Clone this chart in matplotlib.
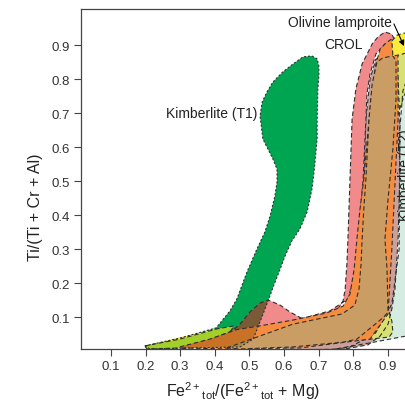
import numpy as np
import matplotlib
matplotlib.use('Agg')
import matplotlib.pyplot as plt
from matplotlib.patches import Polygon

plt.rcParams['font.family'] = 'Liberation Sans'
plt.rcParams['mathtext.fontset'] = 'custom'
plt.rcParams['mathtext.rm'] = 'Liberation Sans'
plt.rcParams['mathtext.it'] = 'Liberation Sans:italic'

# field outlines, Fe2+/(Fe2+ + Mg) vs Ti/(Ti + Cr + Al)
kimb_t1_x = [0.198, 0.299, 0.404, 0.444, 0.464, 0.493, 0.522, 0.545, 0.560, 0.574, 0.580,
             0.580, 0.568, 0.539, 0.531, 0.537, 0.551, 0.568, 0.597, 0.626, 0.655, 0.681,
             0.696, 0.701, 0.701, 0.698, 0.696, 0.696, 0.687, 0.681, 0.667, 0.646, 0.623,
             0.603, 0.589, 0.571, 0.554, 0.534, 0.511, 0.473, 0.213]
kimb_t1_y = [0.015, 0.038, 0.068, 0.118, 0.153, 0.232, 0.300, 0.350, 0.397, 0.456, 0.497,
             0.535, 0.565, 0.624, 0.691, 0.732, 0.762, 0.791, 0.821, 0.844, 0.865, 0.868,
             0.859, 0.838, 0.809, 0.771, 0.674, 0.624, 0.526, 0.476, 0.409, 0.359, 0.324,
             0.279, 0.241, 0.194, 0.147, 0.094, 0.035, 0.012, 0.006]

lime_x = [0.198, 0.299, 0.406, 0.456, 0.438, 0.421, 0.299, 0.204]
lime_y = [0.015, 0.035, 0.065, 0.074, 0.047, 0.018, 0.009, 0.006]

ystrip_x = [0.198, 0.285, 0.357, 0.398, 0.398, 0.198]
ystrip_y = [0.015, 0.037, 0.054, 0.065, 0.021, 0.009]

crol_x = [0.299, 0.386, 0.450, 0.473, 0.502, 0.531, 0.554, 0.589, 0.617, 0.655, 0.704, 0.753,
          0.771, 0.777, 0.782, 0.785, 0.791, 0.797, 0.808, 0.826, 0.855, 0.872, 0.892, 0.912,
          0.921, 0.892, 0.866, 0.849, 0.840, 0.837, 0.829, 0.814, 0.805, 0.785, 0.733, 0.626,
          0.531, 0.473, 0.386, 0.305]
crol_y = [0.010, 0.034, 0.059, 0.079, 0.115, 0.141, 0.150, 0.135, 0.115, 0.094, 0.097, 0.118,
          0.147, 0.182, 0.256, 0.329, 0.506, 0.682, 0.771, 0.844, 0.903, 0.924, 0.938, 0.932,
          0.912, 0.903, 0.874, 0.815, 0.756, 0.682, 0.506, 0.329, 0.226, 0.153, 0.118, 0.088,
          0.068, 0.056, 0.023, 0.006]

orange_x = [0.299, 0.386, 0.464, 0.531, 0.626, 0.724, 0.771, 0.791, 0.803, 0.811, 0.820, 0.831,
            0.846, 0.855, 0.866, 0.878, 0.895, 0.912, 0.927, 0.930, 0.930, 0.912, 0.901, 0.849,
            0.646, 0.444, 0.299]
orange_y = [0.012, 0.035, 0.063, 0.074, 0.091, 0.112, 0.132, 0.168, 0.241, 0.329, 0.418, 0.506,
            0.682, 0.771, 0.844, 0.888, 0.906, 0.918, 0.906, 0.859, 0.682, 0.300, 0.109, 0.035,
            0.009, 0.006, 0.009]

tan_x = [0.435, 0.522, 0.626, 0.768, 0.805, 0.817, 0.823, 0.826, 0.831, 0.837, 0.846, 0.855,
         0.869, 0.886, 0.915, 0.924, 0.924, 0.915, 0.901, 0.892, 0.898, 0.901, 0.889, 0.811,
         0.771, 0.626, 0.473]
tan_y = [0.009, 0.041, 0.079, 0.109, 0.135, 0.182, 0.256, 0.329, 0.418, 0.506, 0.682, 0.785,
         0.850, 0.862, 0.868, 0.853, 0.741, 0.594, 0.447, 0.329, 0.241, 0.115, 0.100, 0.035,
         0.026, 0.012, 0.006]

dusty_x = [0.866, 0.907, 0.930, 0.935, 0.935, 0.930, 0.921, 0.912, 0.901, 0.878, 0.843, 0.777,
           0.646, 0.603, 0.646, 0.762, 0.805, 0.820, 0.831, 0.837, 0.849]
dusty_y = [0.859, 0.868, 0.800, 0.682, 0.506, 0.329, 0.182, 0.124, 0.079, 0.044, 0.018, 0.006,
           0.003, 0.003, 0.018, 0.065, 0.153, 0.329, 0.506, 0.682, 0.800]

ygreen_x = [0.901, 0.924, 0.947, 0.970, 0.970, 0.947, 0.930, 0.915, 0.901, 0.883, 0.886, 0.901,
            0.912, 0.915, 0.904, 0.849, 0.811, 0.791, 0.805, 0.826, 0.855, 0.878]
ygreen_y = [0.888, 0.891, 0.882, 0.859, 0.800, 0.750, 0.697, 0.638, 0.506, 0.329, 0.182, 0.124,
            0.088, 0.056, 0.041, 0.035, 0.032, 0.065, 0.182, 0.447, 0.741, 0.853]

kimb_t2_x = [0.733, 0.849, 0.953, 1.022, 1.022, 0.964, 0.944, 0.935, 0.933, 0.912, 0.863, 0.791]
kimb_t2_y = [0.003, 0.024, 0.044, 0.059, 0.859, 0.824, 0.765, 0.653, 0.300, 0.138, 0.050, 0.012]

ol_lamp_x = [0.912, 0.927, 0.947, 0.970, 0.970, 0.935, 0.915]
ol_lamp_y = [0.912, 0.929, 0.935, 0.929, 0.882, 0.871, 0.868]

xticks = [0.1, 0.2, 0.3, 0.4, 0.5, 0.6, 0.7, 0.8, 0.9]
yticks = [0.1, 0.2, 0.3, 0.4, 0.5, 0.6, 0.7, 0.8, 0.9]

DASH = (0, (4, 2.5))
DOT = (0, (1.8, 1.8))
ECOL = '#2e2e2e'

fig = plt.figure(figsize=(4.06, 4.02), dpi=100)
ax = fig.add_axes([81 / 406, 1 - 350 / 402, 325 / 406, 340 / 402])


def field(x, y, fc, z, ls=DASH, edge=True):
    xy = np.column_stack([x, y])
    p = Polygon(xy, closed=True, facecolor=fc, edgecolor='none', zorder=z)
    ax.add_patch(p)
    if edge:
        ax.add_patch(Polygon(xy, closed=True, fill=False, edgecolor=ECOL,
                             lw=0.8, ls=ls, zorder=z + 0.5))
    return p


def overlap(x, y, fc, z, clip):
    p = Polygon(np.column_stack([x, y]), closed=True, facecolor=fc,
                edgecolor='none', zorder=z)
    ax.add_patch(p)
    p.set_clip_path(clip)


field(kimb_t2_x, kimb_t2_y, '#d4ece1', 0.5)
field(dusty_x, dusty_y, '#c9a19a', 0.7)
field(ygreen_x, ygreen_y, '#d8e072', 0.9)
green = field(kimb_t1_x, kimb_t1_y, '#00a551', 1.0, edge=False)
field(ystrip_x, ystrip_y, '#f2e63a', 1.1, edge=False)
lime = field(lime_x, lime_y, '#a3cf2a', 1.2)
field(crol_x, crol_y, '#f08a8b', 2.0)
overlap(crol_x, crol_y, '#7b5b37', 2.1, green)
field(orange_x, orange_y, '#f58c3f', 3.0)
overlap(orange_x, orange_y, '#c77226', 3.1, green)
overlap(orange_x, orange_y, '#c77226', 3.15, lime)
field(tan_x, tan_y, '#c99d63', 4.0)
overlap(tan_x, tan_y, '#a88b48', 4.1, green)
overlap(tan_x, tan_y, '#a88b48', 4.15, lime)
field(ol_lamp_x, ol_lamp_y, '#f9ec3c', 5.0)
ax.add_patch(Polygon(np.column_stack([kimb_t1_x, kimb_t1_y]), closed=True, fill=False,
                     edgecolor=ECOL, lw=0.8, ls=DOT, zorder=6))

ax.text(0.522, 0.700, 'Kimberlite (T1)', ha='right', va='center', fontsize=10, color='#222')
ax.text(0.829, 0.903, 'CROL', ha='right', va='center', fontsize=10, color='#222')
ax.text(0.912, 0.968, 'Olivine lamproite', ha='right', va='center', fontsize=10, color='#222')
ax.annotate('', xy=(0.947, 0.897), xytext=(0.918, 0.962),
            arrowprops=dict(arrowstyle='-|>', color='k', lw=0.8, mutation_scale=8,
                            shrinkA=0, shrinkB=0), zorder=7)
# label of the field that runs off the right edge, cut like in the source figure
ax.text(0.949, 0.52, 'Kimberlite (T2)', rotation=90, ha='center', va='center',
        fontsize=10, color='#222', zorder=7)

ax.set_xlim(0.0133, 0.9529)
ax.set_ylim(0.0059, 1.0059)
ax.set_xticks(xticks)
ax.set_yticks(yticks)
ax.tick_params(direction='out', length=5, width=0.8, color='#444', labelcolor='#333',
               labelsize=9.5, pad=3)
for s in ['left', 'bottom', 'top']:
    ax.spines[s].set_color('#444')
    ax.spines[s].set_linewidth(0.9)
ax.spines['right'].set_visible(False)
ax.set_xlabel(r'Fe$^{2+}{}_{\rm tot}$/(Fe$^{2+}{}_{\rm tot}$ + Mg)', fontsize=11.5,
              color='#222', labelpad=5)
ax.set_ylabel('Ti/(Ti + Cr + Al)', fontsize=11.5, color='#222')
ax.yaxis.set_label_coords(-0.117, 0.42)

fig.savefig('out.png', dpi=100)
